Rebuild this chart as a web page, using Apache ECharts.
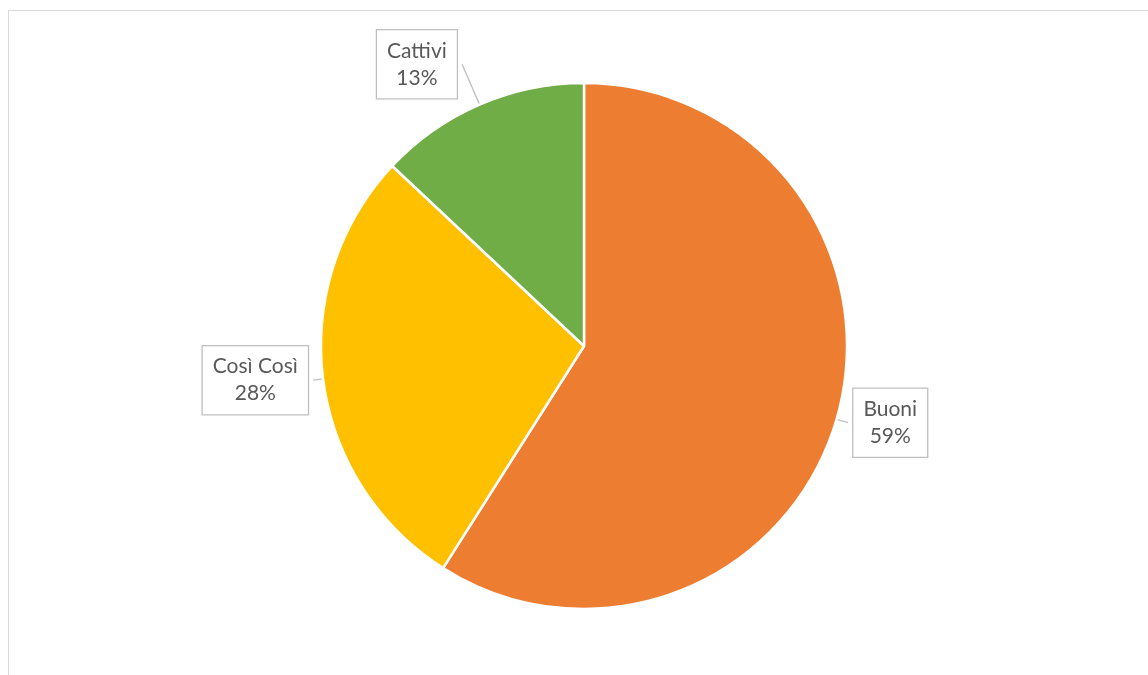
<!DOCTYPE html>
<html>
<head>
<meta charset="utf-8">
<script src="https://cdn.jsdelivr.net/npm/echarts@6/dist/echarts.min.js"></script>
<style>
html,body{margin:0;padding:0;background:#fff;}
#frame{position:absolute;left:8px;top:10px;width:1200px;height:700px;border-left:1px solid #d9d9d9;border-top:1px solid #d9d9d9;}
#chart{position:absolute;left:0;top:0;width:1148px;height:675px;}
</style>
</head>
<body>
<div id="frame"></div>
<div id="chart"></div>
<script>
const categories = ['Buoni', 'Così Così', 'Cattivi'];
const values = [59, 28, 13];
const colors = ['#ED7D31', '#FFC000', '#70AD47'];
const lineLengths = [12, 10, 44];

const chart = echarts.init(document.getElementById('chart'));
chart.setOption({
  animation: false,
  series: [{
    type: 'pie',
    center: [584, 346],
    radius: 263,
    startAngle: 90,
    clockwise: true,
    avoidLabelOverlap: false,
    itemStyle: { borderColor: '#ffffff', borderWidth: 2.5 },
    label: {
      show: true,
      position: 'outside',
      formatter: '{b}\n{d}%',
      fontFamily: 'Lato, "Open Sans", sans-serif',
      fontSize: 21,
      lineHeight: 27,
      color: '#595959',
      backgroundColor: '#ffffff',
      borderColor: '#bfbfbf',
      borderWidth: 1.3,
      padding: [7, 10, 7, 10],
      distanceToLabelLine: 4
    },
    labelLine: {
      show: true,
      length: 10,
      length2: 0,
      lineStyle: { color: '#bfbfbf', width: 1.3 }
    },
    labelLayout: function (params) {
      const w = params.labelRect.width;
      return {
        align: 'center',
        dx: params.align === 'left' ? w / 2 : -w / 2
      };
    },
    data: categories.map((c, i) => ({
      name: c,
      value: values[i],
      itemStyle: { color: colors[i] },
      labelLine: { length: lineLengths[i], length2: 0 }
    }))
  }]
});
</script>
</body>
</html>
